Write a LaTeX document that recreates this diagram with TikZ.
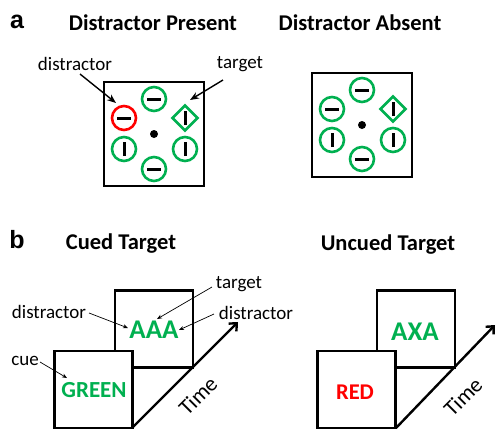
\documentclass[tikz,border=0pt]{standalone}
\usepackage{fontspec}
\setmainfont{Carlito}
\newfontfamily\panelfont{Liberation Sans}
\usetikzlibrary{shapes.geometric,arrows.meta}
\definecolor{grn}{RGB}{0,176,80}
\definecolor{rd}{RGB}{255,0,0}
\tikzset{
  ring/.style={circle,draw=grn,line width=2.6pt,minimum size=24pt,inner sep=0pt},
  redring/.style={ring,draw=rd},
  gem/.style={diamond,draw=grn,line width=2.6pt,minimum size=26pt,inner sep=0pt},
  bar/.style={line width=3pt,black},
  frame/.style={draw,line width=1.6pt},
  card/.style={draw,fill=white,line width=2.2pt,minimum width=78pt,minimum height=77pt,inner sep=0pt},
  title/.style={font=\fontsize{22.5}{26}\selectfont\bfseries},
  plabel/.style={font=\panelfont\fontsize{25}{28}\selectfont\bfseries},
  note/.style={font=\fontsize{19}{22}\selectfont},
  timefont/.style={font=\fontsize{22}{24}\selectfont},
  word/.style={font=\fontsize{23}{26}\selectfont\bfseries},
  redword/.style={font=\fontsize{22.5}{26}\selectfont\bfseries},
  bigword/.style={font=\fontsize{27}{30}\selectfont\bfseries},
  pointer/.style={-{Stealth[length=9pt,width=7pt]},line width=1.4pt},
  thinptr/.style={-{Stealth[length=5pt,width=4pt]},line width=0.7pt},
  timeline/.style={-{Straight Barb[length=6pt,width=11pt]},line width=2.4pt},
}
% horizontal and vertical black bars inside a stimulus
\newcommand{\hstroke}[1]{\draw[bar] ([xshift=-7pt]#1.center) -- ([xshift=7pt]#1.center);}
\newcommand{\vstroke}[1]{\draw[bar] ([yshift=-7pt]#1.center) -- ([yshift=7pt]#1.center);}
\begin{document}
\begin{tikzpicture}[x=1pt,y=-1pt]
\useasboundingbox (0,0) rectangle (499,429);

% ---------- panel a ----------
\node[plabel] (pa) at (17,22) {a};
\node[title] (ta1) at (153,23) {Distractor Present};
\node[title] (ta2) at (360,23) {Distractor Absent};

% left display (distractor present)
\node[frame,minimum width=100pt,minimum height=104pt,inner sep=0pt] (boxL) at (154,134) {};
\fill (154,134) circle (4pt) coordinate (dotL);
\node[ring]    (L1) at (154,99)  {}; \hstroke{L1}
\node[redring] (L2) at (124,118) {}; \hstroke{L2}
\node[gem]     (L3) at (185,118) {}; \vstroke{L3}
\node[ring]    (L4) at (124,149) {}; \vstroke{L4}
\node[ring]    (L5) at (185,149) {}; \vstroke{L5}
\node[ring]    (L6) at (154,169) {}; \hstroke{L6}

\node[note] (dlab) at (75,64) {distractor};
\node[note] (tlab) at (240,64) {target};
\coordinate (dtip) at (116,103);
\coordinate (ttip) at (190,100);
\draw[pointer] (80,74) -- (dtip);
\draw[pointer] (223,80) -- (ttip);

% right display (distractor absent)
\node[frame,minimum width=100pt,minimum height=104pt,inner sep=0pt] (boxR) at (362,125) {};
\fill (362,125) circle (4pt) coordinate (dotR);
\node[ring] (R1) at (362,90)  {}; \hstroke{R1}
\node[ring] (R2) at (332,109) {}; \hstroke{R2}
\node[gem]  (R3) at (393,109) {}; \vstroke{R3}
\node[ring] (R4) at (332,140) {}; \vstroke{R4}
\node[ring] (R5) at (393,140) {}; \vstroke{R5}
\node[ring] (R6) at (362,159) {}; \hstroke{R6}

% ---------- panel b ----------
\node[plabel] (pb) at (17,240) {b};
\node[title] (tb1) at (121,244) {Cued Target};
\node[title] (tb2) at (388,245) {Uncued Target};

% cued target sequence
\coordinate (timeL0) at (132,428);
\coordinate (timeL1) at (238,322);
\draw[timeline] (timeL0) -- (timeL1);
\node[card] (backL) at (154,329) {};
\node[card] (frontL) at (93.5,389.5) {};
\node[bigword,text=grn] (aaa) at (154,330) {AAA};
\node[word,text=grn] (green) at (94,390) {GREEN};
\node[timefont,rotate=45] (timeLab1) at (198,396) {Time};

\node[note] (bd1) at (49,312) {distractor};
\node[note] (bcue) at (25,361) {cue};
\node[note] (btg) at (239,284) {target};
\node[note] (bd2) at (256,313) {distractor};
\coordinate (a1) at (128,328);
\coordinate (a2) at (157,319);
\coordinate (a3) at (179,330);
\coordinate (a4) at (67,378);
\draw[thinptr] (89,313) -- (a1);
\draw[thinptr] (212,287) -- (a2);
\draw[thinptr] (214,314) -- (a3);
\draw[thinptr] (40,362) -- (a4);

% uncued target sequence
\coordinate (timeR0) at (396,428);
\coordinate (timeR1) at (495,325);
\draw[timeline] (timeR0) -- (timeR1);
\node[card] (backR) at (416,329) {};
\node[card] (frontR) at (356.5,389.5) {};
\node[bigword,text=grn] (axa) at (415,332) {AXA};
\node[redword,text=rd] (red) at (355,392) {RED};
\node[timefont,rotate=45] (timeLab2) at (463,397) {Time};
\end{tikzpicture}
\end{document}
